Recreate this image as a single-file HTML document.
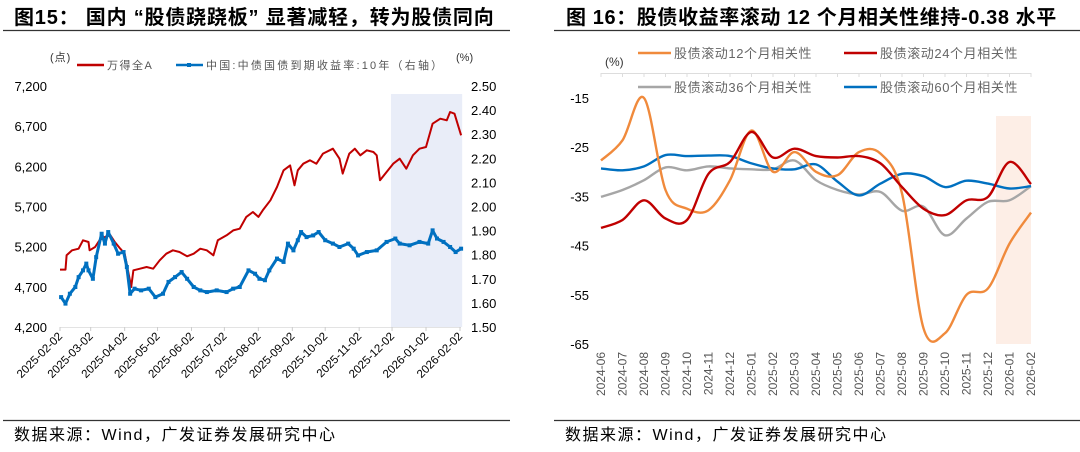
<!DOCTYPE html>
<html><head><meta charset="utf-8">
<style>
html,body{margin:0;padding:0;background:#fff;}
svg{display:block;font-family:"Liberation Sans","Noto Sans CJK SC",sans-serif;}
</style></head>
<body>
<svg id="s" width="1080" height="452" viewBox="0 0 1080 452">
<g>
<text x="14" y="24" font-size="20" font-weight="bold" letter-spacing="0.8" fill="#000">图15： 国内 “股债跷跷板” 显著减轻，转为股债同向</text>
<line x1="3" y1="30.5" x2="510" y2="30.5" stroke="#333" stroke-width="1.2"/>
</g>
<g>
<text x="566" y="24" font-size="20" font-weight="bold" letter-spacing="0.6" fill="#000">图 16：股债收益率滚动 12 个月相关性维持-0.38 水平</text>
<line x1="554" y1="30.5" x2="1080" y2="30.5" stroke="#333" stroke-width="1.2"/>
</g>
<line x1="3" y1="420.5" x2="510" y2="420.5" stroke="#333" stroke-width="1.2"/>
<text x="14" y="440" font-size="16" letter-spacing="1.5" fill="#000">数据来源：Wind，广发证券发展研究中心</text>
<line x1="554" y1="420.5" x2="1080" y2="420.5" stroke="#333" stroke-width="1.2"/>
<text x="565" y="440" font-size="16" letter-spacing="1.5" fill="#000">数据来源：Wind，广发证券发展研究中心</text>
<g id="left"></g>
<g id="right"></g>
</svg>
<script>
// ---------- Left chart data (days since 2025-02-02) ----------
const leftTickLabels = ["2025-02-02","2025-03-02","2025-04-02","2025-05-02","2025-06-02","2025-07-02","2025-08-02","2025-09-02","2025-10-02","2025-11-02","2025-12-02","2026-01-02","2026-02-02"];
const leftTickDays = [0,28,59,89,120,150,181,212,242,273,303,334,365];
const leftYTicks = [4200,4700,5200,5700,6200,6700,7200];
const rightYTicks = [1.50,1.60,1.70,1.80,1.90,2.00,2.10,2.20,2.30,2.40,2.50];
const windDays = [0,5,6,11,17,21,26,27,32,36,41,46,50,55,59,62,65,67,73,79,85,91,97,103,109,116,122,128,134,140,144,152,158,164,170,176,181,185,192,198,204,210,214,217,222,228,234,240,249,255,258,264,269,274,280,286,289,292,298,304,310,316,322,328,334,340,347,353,356,360,366];
const windValues = [4914,4914,5092,5155,5175,5279,5258,5155,5196,5279,5320,5341,5258,5175,5113,4906,4698,4906,4926,4947,4926,5030,5113,5155,5134,5080,5113,5175,5155,5092,5279,5341,5403,5424,5570,5632,5570,5652,5777,5943,6150,6212,5964,6150,6233,6275,6233,6358,6420,6295,6109,6358,6420,6337,6399,6378,6337,6026,6130,6233,6295,6171,6337,6420,6441,6731,6793,6773,6876,6855,6586];
const bondDays = [1,5,9,14,17,21,24,26,30,33,38,41,44,49,53,58,61,64,68,74,81,87,94,99,105,111,116,122,128,134,143,152,158,164,172,178,182,187,191,198,204,208,213,217,220,225,231,236,242,249,255,263,268,272,280,289,298,306,310,319,328,336,340,344,350,356,361,366];
const bondValues = [1.624,1.597,1.638,1.666,1.707,1.735,1.763,1.735,1.700,1.790,1.887,1.846,1.894,1.846,1.804,1.811,1.749,1.638,1.659,1.652,1.659,1.624,1.638,1.687,1.707,1.728,1.700,1.666,1.652,1.645,1.652,1.645,1.659,1.666,1.735,1.721,1.700,1.694,1.735,1.784,1.770,1.846,1.818,1.860,1.894,1.873,1.880,1.894,1.860,1.846,1.832,1.846,1.825,1.797,1.811,1.818,1.853,1.867,1.846,1.839,1.853,1.846,1.901,1.867,1.853,1.832,1.811,1.825];
const shadeStartDay = 302, shadeEndDay = 367;

// ---------- Right chart data ----------
const months = ["2024-06","2024-07","2024-08","2024-09","2024-10","2024-11","2024-12","2025-01","2025-02","2025-03","2025-04","2025-05","2025-06","2025-07","2025-08","2025-09","2025-10","2025-11","2025-12","2026-01","2026-02"];
const corr12 = [-27.7,-23.6,-15,-33.7,-37.5,-37.8,-31.7,-21.6,-30,-26,-30,-30.7,-26,-26.3,-34.4,-61.8,-62.8,-55,-53.7,-44.6,-38.3];
const corr24 = [-41.4,-39.8,-35.8,-39.5,-39.8,-30.4,-28,-21.9,-27.1,-25.3,-26.8,-27.1,-26.8,-28.3,-33.1,-37.5,-38.8,-35.8,-35.1,-28,-32.5];
const corr36 = [-35.1,-33.7,-31.7,-29.1,-29.7,-28.9,-29.3,-29.5,-29.5,-27.7,-31.7,-33.7,-34.6,-34.1,-37.9,-37.1,-42.9,-39.5,-36.1,-35.8,-32.9];
const corr60 = [-29.3,-29.7,-28.9,-26.6,-26.8,-26.7,-26.8,-28.3,-29.3,-29.5,-28.5,-32,-34.8,-32.4,-30.4,-30.9,-33.1,-31.8,-32.4,-33.4,-32.9];
const corrYTicks = [-65,-55,-45,-35,-25,-15];
const legendLabels = ["股债滚动12个月相关性","股债滚动24个月相关性","股债滚动36个月相关性","股债滚动60个月相关性"];

const NS="http://www.w3.org/2000/svg";
function mk(tag,attrs,parent,txt){const e=document.createElementNS(NS,tag);for(const k in attrs)e.setAttribute(k,attrs[k]);if(txt!==undefined)e.textContent=txt;parent.appendChild(e);return e;}

// ---------- Left chart ----------
(function(){
const g=document.getElementById('left');
const X0=60,X1=460,Y0=327,Y1=86;
const xL=d=>X0+(X1-X0)*d/365;
const yL=v=>Y0-(Y0-Y1)*(v-4200)/3000;
const yR=v=>Y0-(Y0-Y1)*(v-1.5)/1.0;
let r=mk('rect',{x:xL(shadeStartDay),y:94,width:xL(shadeEndDay)-xL(shadeStartDay),height:Y0-94,fill:'#e9edf8'},g);


let ax=mk('line',{x1:X0,y1:Y0+0.5,x2:X1+1,y2:Y0+0.5,stroke:'#e3e3e3'},g);


leftTickDays.forEach((d,i)=>{
  const x=xL(d);
  const t=mk('line',{x1:x,y1:Y0,x2:x,y2:Y0+4,stroke:'#ccc'},g);
  
  
  const lb=mk('text',{x:x+3,y:Y0+10,'font-size':11.5,'text-anchor':'end',transform:`rotate(-45 ${x+3} ${Y0+10})`,fill:'#000'},g,leftTickLabels[i]);
  
  
});
leftYTicks.forEach(v=>{
  const t=mk('text',{x:47,y:yL(v)+5,'font-size':13,'text-anchor':'end',fill:'#000'},g,v.toLocaleString('en-US'));
  
  
});
rightYTicks.forEach(v=>{
  const t=mk('text',{x:471,y:yR(v)+5,'font-size':13,fill:'#000'},g,v.toFixed(2));
  
  
});
let u=mk('text',{x:50,y:61,'font-size':11,'letter-spacing':1,fill:'#333'},g,'(点)');


u=mk('text',{x:456,y:61,'font-size':11,fill:'#333'},g,'(%)');


// legend
let l=mk('line',{x1:77,y1:65,x2:104,y2:65,stroke:'#c00000','stroke-width':2.5},g);


l=mk('text',{x:107,y:69,'font-size':11,'letter-spacing':1.5,fill:'#555'},g,'万得全A');


l=mk('line',{x1:176,y1:65,x2:203,y2:65,stroke:'#0070c0','stroke-width':2.5},g);


l=mk('rect',{x:187,y:63,width:4,height:4,fill:'#0070c0'},g);


l=mk('text',{x:206,y:69,'font-size':11,'letter-spacing':2.2,fill:'#555'},g,'中国:中债国债到期收益率:10年（右轴）');


// series
let p=windDays.map((d,i)=>(i?'L':'M')+xL(d).toFixed(1)+','+yL(windValues[i]).toFixed(1)).join('');
let s=mk('path',{d:p,fill:'none',stroke:'#c00000','stroke-width':2,'stroke-linejoin':'round'},g);


p=bondDays.map((d,i)=>(i?'L':'M')+xL(d).toFixed(1)+','+yR(bondValues[i]).toFixed(1)).join('');
s=mk('path',{d:p,fill:'none',stroke:'#0070c0','stroke-width':3,'stroke-linejoin':'round'},g);


bondDays.forEach((d,i)=>{
  const m=mk('rect',{x:xL(d)-2,y:yR(bondValues[i])-2,width:4,height:4,fill:'#0070c0'},g);
  
  
});
})();

// ---------- Right chart ----------
(function(){
const g=document.getElementById('right');
const X0=601,X1=1031;
const yT=73.4,yB=344; // -10 .. -65
const x=i=>X0+(X1-X0)*i/(months.length-1);
const y=v=>yT+(yB-yT)*(-10-v)/55;
let r=mk('rect',{x:x(19)-13.5,y:116,width:x(20)-x(19)+13.5,height:yB-116,fill:'#fdeee6'},g);


let ax=mk('line',{x1:X0,y1:73.5,x2:X1,y2:73.5,stroke:'#ddd'},g);


months.forEach((m,i)=>{
  const t=mk('line',{x1:x(i),y1:73,x2:x(i),y2:77,stroke:'#ddd'},g);
  
  
  const lb=mk('text',{x:x(i)+4,y:352,'font-size':12,'text-anchor':'end',transform:`rotate(-90 ${x(i)+4} 352)`,fill:'#555'},g,m);
  
  
});
corrYTicks.forEach(v=>{
  const t=mk('text',{x:589,y:y(v)+5,'font-size':13,'text-anchor':'end',fill:'#000'},g,String(v));
  
  
});
let u=mk('text',{x:605,y:66,'font-size':12,fill:'#333'},g,'(%)');


const colors=['#f08a3c','#c00000','#a6a6a6','#0070c0'];
const series=[corr12,corr24,corr36,corr60];
const legPos=[[638,58],[844,58],[638,92],[844,92]];
legendLabels.forEach((lab,k)=>{
  const [lx,ly]=legPos[k];
  const sw=mk('line',{x1:lx,y1:ly-5,x2:lx+33,y2:ly-5,stroke:colors[k],'stroke-width':2.5},g);
  
  
  const tx=mk('text',{x:lx+36,y:ly,'font-size':13,'letter-spacing':0.6,fill:'#666'},g,lab);
  
  
});
function smooth(vals){
  const pts=vals.map((v,i)=>[x(i),y(v)]);
  let d='M'+pts[0][0].toFixed(1)+','+pts[0][1].toFixed(1);
  for(let i=0;i<pts.length-1;i++){
    const p0=pts[Math.max(0,i-1)],p1=pts[i],p2=pts[i+1],p3=pts[Math.min(pts.length-1,i+2)];
    const c1=[p1[0]+(p2[0]-p0[0])/6,p1[1]+(p2[1]-p0[1])/6];
    const c2=[p2[0]-(p3[0]-p1[0])/6,p2[1]-(p3[1]-p1[1])/6];
    d+='C'+c1.map(n=>n.toFixed(1)).join(',')+' '+c2.map(n=>n.toFixed(1)).join(',')+' '+p2[0].toFixed(1)+','+p2[1].toFixed(1);
  }
  return d;
}
const order=[2,3,0,1];
const names=['corr-12m-line','corr-24m-line','corr-36m-line','corr-60m-line'];
order.forEach(k=>{
  const s=mk('path',{d:smooth(series[k]),fill:'none',stroke:colors[k],'stroke-width':2.4,'stroke-linejoin':'round'},g);
  
  
});
})();
</script>
</body></html>
